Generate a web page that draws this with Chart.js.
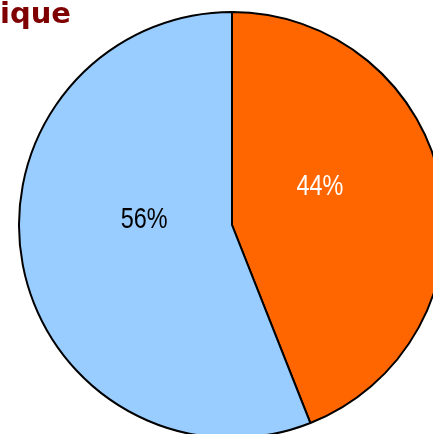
<!DOCTYPE html>
<html>
<head>
<meta charset="utf-8">
<script src="https://cdn.jsdelivr.net/npm/chart.js@4"></script>
<style>
  html, body { margin: 0; padding: 0; overflow: hidden; background: #fff; }
  #wrap { position: absolute; left: 0; top: 0; width: 470px; height: 460px; }
</style>
</head>
<body>
<div id="wrap"><canvas id="pieChart"></canvas></div>
<script>
const categories = ['A', 'B'];
const values = [44, 56];
const colors = ['#ff6600', '#99ccff'];
const labelColors = ['#ffffff', '#000000'];
const titleText = 'Graphique';

// titre et pourcentages dessinés à la main
const textPlugin = {
  id: 'textPlugin',
  afterDatasetsDraw(chart) {
    const ctx = chart.ctx;
    ctx.save();
    ctx.font = 'bold 29px "DejaVu Sans"';
    ctx.fillStyle = '#7f0000';
    ctx.textAlign = 'right';
    ctx.textBaseline = 'alphabetic';
    ctx.fillText(titleText, 71, 23);

    const total = values.reduce((a, b) => a + b, 0);
    const meta = chart.getDatasetMeta(0);
    ctx.font = '30px "Liberation Sans"';
    ctx.textAlign = 'center';
    ctx.textBaseline = 'middle';
    meta.data.forEach((arc, i) => {
      const mid = (arc.startAngle + arc.endAngle) / 2;
      const r = arc.outerRadius * 0.42;
      const x = arc.x + Math.cos(mid) * r;
      const y = arc.y + Math.sin(mid) * r - 22;
      ctx.save();
      ctx.translate(x, y);
      ctx.scale(0.78, 1); // police étroite
      ctx.fillStyle = labelColors[i];
      ctx.fillText(Math.round(values[i] / total * 100) + '%', 0, 0);
      ctx.restore();
    });
    ctx.restore();
  }
};

new Chart(document.getElementById('pieChart'), {
  type: 'pie',
  data: {
    labels: categories,
    datasets: [{
      data: values,
      backgroundColor: colors,
      borderColor: '#000000',
      borderWidth: 2
    }]
  },
  options: {
    responsive: true,
    maintainAspectRatio: false,
    animation: false,
    layout: { padding: { left: 18, top: 11, right: 24, bottom: 21 } },
    plugins: {
      legend: { display: false },
      tooltip: { enabled: false }
    }
  },
  plugins: [textPlugin]
});
</script>
</body>
</html>
